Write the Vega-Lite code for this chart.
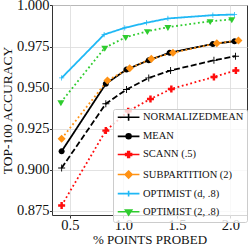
{
  "$schema": "https://vega.github.io/schema/vega-lite/v6.json",
  "width": 195,
  "height": 210,
  "autosize": {"type": "none"},
  "padding": {"left": 52, "top": 5, "right": 2, "bottom": 34},
  "config": {
    "view": {"stroke": "#333333", "strokeWidth": 1},
    "axis": {
      "domain": false,
      "grid": true,
      "gridColor": "#dadada",
      "gridWidth": 0.8,
      "tickColor": "#333333",
      "tickWidth": 1,
      "labelFont": "Liberation Serif",
      "titleFont": "Liberation Serif",
      "labelColor": "#111111",
      "titleColor": "#111111",
      "titleFontWeight": "normal"
    }
  },
  "data": {
    "values": [
      {"series": "NORMALIZEDMEAN", "x": 0.423, "y": 0.901},
      {"series": "NORMALIZEDMEAN", "x": 0.836, "y": 0.9402},
      {"series": "NORMALIZEDMEAN", "x": 1.029, "y": 0.9488},
      {"series": "NORMALIZEDMEAN", "x": 1.237, "y": 0.9559},
      {"series": "NORMALIZEDMEAN", "x": 1.441, "y": 0.9604},
      {"series": "NORMALIZEDMEAN", "x": 1.846, "y": 0.9666},
      {"series": "NORMALIZEDMEAN", "x": 2.048, "y": 0.9691},
      {"series": "MEAN", "x": 0.423, "y": 0.9112},
      {"series": "MEAN", "x": 0.836, "y": 0.9523},
      {"series": "MEAN", "x": 1.029, "y": 0.961},
      {"series": "MEAN", "x": 1.237, "y": 0.9667},
      {"series": "MEAN", "x": 1.432, "y": 0.9712},
      {"series": "MEAN", "x": 1.836, "y": 0.9766},
      {"series": "MEAN", "x": 2.038, "y": 0.9782},
      {"series": "SCANN (.5)", "x": 0.423, "y": 0.8782},
      {"series": "SCANN (.5)", "x": 0.836, "y": 0.9238},
      {"series": "SCANN (.5)", "x": 1.045, "y": 0.9356},
      {"series": "SCANN (.5)", "x": 1.253, "y": 0.9431},
      {"series": "SCANN (.5)", "x": 1.448, "y": 0.9492},
      {"series": "SCANN (.5)", "x": 1.846, "y": 0.9565},
      {"series": "SCANN (.5)", "x": 2.051, "y": 0.9604},
      {"series": "SUBPARTITION (2)", "x": 0.423, "y": 0.9189},
      {"series": "SUBPARTITION (2)", "x": 0.851, "y": 0.9543},
      {"series": "SUBPARTITION (2)", "x": 1.059, "y": 0.9618},
      {"series": "SUBPARTITION (2)", "x": 1.261, "y": 0.9675},
      {"series": "SUBPARTITION (2)", "x": 1.463, "y": 0.9712},
      {"series": "SUBPARTITION (2)", "x": 1.873, "y": 0.977},
      {"series": "SUBPARTITION (2)", "x": 2.075, "y": 0.9787},
      {"series": "OPTIMIST (d, .8)", "x": 0.423, "y": 0.9559},
      {"series": "OPTIMIST (d, .8)", "x": 0.82, "y": 0.9823},
      {"series": "OPTIMIST (d, .8)", "x": 1.013, "y": 0.9864},
      {"series": "OPTIMIST (d, .8)", "x": 1.215, "y": 0.9895},
      {"series": "OPTIMIST (d, .8)", "x": 1.416, "y": 0.9921},
      {"series": "OPTIMIST (d, .8)", "x": 1.836, "y": 0.9941},
      {"series": "OPTIMIST (d, .8)", "x": 2.038, "y": 0.9945},
      {"series": "OPTIMIST (2, .8)", "x": 0.416, "y": 0.941},
      {"series": "OPTIMIST (2, .8)", "x": 0.826, "y": 0.9742},
      {"series": "OPTIMIST (2, .8)", "x": 1.022, "y": 0.9807},
      {"series": "OPTIMIST (2, .8)", "x": 1.224, "y": 0.9843},
      {"series": "OPTIMIST (2, .8)", "x": 1.416, "y": 0.9868},
      {"series": "OPTIMIST (2, .8)", "x": 1.811, "y": 0.9904},
      {"series": "OPTIMIST (2, .8)", "x": 2.013, "y": 0.9915}
    ]
  },
  "encoding": {
    "x": {
      "field": "x", "type": "quantitative",
      "scale": {"domain": [0.333, 2.155], "nice": false, "zero": false},
      "axis": {"values": [0.5, 1, 1.5, 2], "format": ".1f", "title": "% POINTS PROBED", "labelFontSize": 14.5, "titleFontSize": 13, "tickSize": 3, "labelPadding": 0, "titlePadding": 2}
    },
    "y": {
      "field": "y", "type": "quantitative",
      "scale": {"domain": [0.8724, 1.0003], "nice": false, "zero": false},
      "axis": {"values": [0.875, 0.9, 0.925, 0.95, 0.975, 1.0], "format": ".3f", "title": "TOP-100 ACCURACY", "labelFontSize": 14.5, "titleFontSize": 13.5, "tickSize": 2.5, "labelPadding": 0.5, "titlePadding": 2}
    }
  },
  "layer": [
    {
      "mark": {"type": "line", "strokeWidth": 1.8, "strokeCap": "butt"},
      "encoding": {
        "stroke": {
          "field": "series", "type": "nominal",
          "sort": ["NORMALIZEDMEAN", "MEAN", "SCANN (.5)", "SUBPARTITION (2)", "OPTIMIST (d, .8)", "OPTIMIST (2, .8)"],
          "scale": {"range": ["#000000", "#000000", "#ff0d0d", "#ff9214", "#1fb8f5", "#2ecc2e"]},
          "legend": {
            "orient": "none", "legendX": 61, "legendY": 104, "title": null,
            "symbolSize": 49, "symbolStrokeWidth": 1.6,
            "labelFont": "Liberation Serif", "labelFontSize": 10.5, "labelColor": "#111111", "labelOffset": 16.5,
            "padding": 3, "rowPadding": 6.1,
            "fillColor": "rgba(255,255,255,0.8)", "strokeColor": "#cccccc", "cornerRadius": 2, "labelLimit": 200,
            "encode": {
              "symbols": {
                "update": {
                  "shape": {"signal": "datum.value === 'NORMALIZEDMEAN' ? 'M-1,0H5.2M2.1,-1V1' : datum.value === 'MEAN' ? 'M-1,0H5.2M2.8,0A0.7,0.7 0 1,1 1.4,0A0.7,0.7 0 1,1 2.8,0Z' : datum.value === 'SCANN (.5)' ? 'M-1,0H5.2M1.25,-0.25H1.85V-0.85H2.35V-0.25H2.95V0.25H2.35V0.85H1.85V0.25H1.25Z' : datum.value === 'SUBPARTITION (2)' ? 'M-1,0H5.2M2.1,-1L3.1,0L2.1,1L1.1,0Z' : datum.value === 'OPTIMIST (d, .8)' ? 'M-1,0H5.2M2.1,-0.8V0.8' : 'M-1,0H5.2M1.2,-0.5H3L2.1,0.95Z'"},
                  "fill": {"signal": "datum.value === 'SCANN (.5)' ? '#ff0d0d' : datum.value === 'SUBPARTITION (2)' ? '#ff9214' : datum.value === 'OPTIMIST (d, .8)' ? '#1fb8f5' : datum.value === 'OPTIMIST (2, .8)' ? '#2ecc2e' : '#000000'"},
                  "fillOpacity": {"value": 1},
                  "opacity": {"value": 1}
                }
              }
            }
          }
        },
        "strokeDash": {
          "field": "series", "type": "nominal",
          "sort": ["NORMALIZEDMEAN", "MEAN", "SCANN (.5)", "SUBPARTITION (2)", "OPTIMIST (d, .8)", "OPTIMIST (2, .8)"],
          "scale": {"range": [[6, 2.6], [1, 0], [1.8, 2.6], [1.8, 2.6], [1, 0], [1.8, 2.6]]}
        }
      }
    },
    {
      "mark": {"type": "point", "filled": true, "opacity": 1, "size": 49, "strokeWidth": 0},
      "encoding": {
        "fill": {
          "field": "series", "type": "nominal",
          "sort": ["NORMALIZEDMEAN", "MEAN", "SCANN (.5)", "SUBPARTITION (2)", "OPTIMIST (d, .8)", "OPTIMIST (2, .8)"],
          "scale": {"range": ["#000000", "#000000", "#ff0d0d", "#ff9214", "#1fb8f5", "#2ecc2e"]},
          "legend": null
        },
        "shape": {
          "field": "series", "type": "nominal",
          "sort": ["NORMALIZEDMEAN", "MEAN", "SCANN (.5)", "SUBPARTITION (2)", "OPTIMIST (d, .8)", "OPTIMIST (2, .8)"],
          "scale": {"range": [
            "M-1,-0.13H1V0.13H-1ZM-0.13,-1H0.13V1H-0.13Z",
            "M0.86,0A0.86,0.86 0 1,1 -0.86,0A0.86,0.86 0 1,1 0.86,0Z",
            "M-1,-0.35H-0.35V-1H0.35V-0.35H1V0.35H0.35V1H-0.35V0.35H-1Z",
            "M0,-1.15L1.15,0L0,1.15L-1.15,0Z",
            "M-0.75,-0.11H0.75V0.11H-0.75ZM-0.11,-0.75H0.11V0.75H-0.11Z",
            "M-1,-0.6H1L0,1.1Z"
          ]},
          "legend": null
        }
      }
    }
  ]
}
